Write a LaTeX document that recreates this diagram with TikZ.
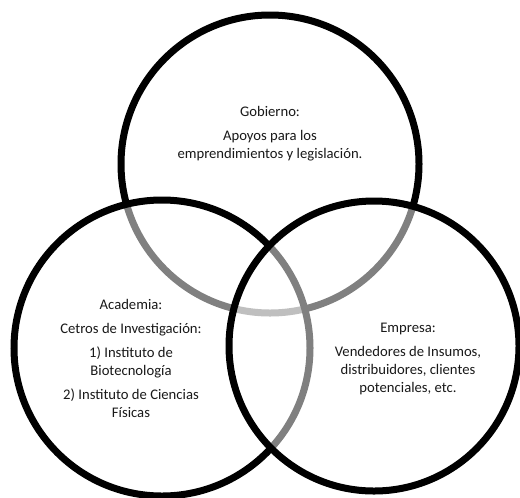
\documentclass[tikz,border=0pt]{standalone}
\usepackage{fontspec}
\setmainfont{Carlito}
\usetikzlibrary{positioning}

\tikzset{
  ring/.style={circle, draw=black, line width=5.25pt, fill=white,
    fill opacity=0.5, draw opacity=1, inner sep=0pt},
  blocktext/.style={align=center, text=black!90,
    font=\fontsize{11}{13.5}\selectfont, inner sep=0pt}
}

\begin{document}
\begin{tikzpicture}[x=0.75pt, y=-0.75pt]
\useasboundingbox (0,0) rectangle (520,497);

% === Circles (drawn in order, each one veils the one below) ===
\node[ring, minimum size=223.5pt] (gob) at (270,164) {};
\node[ring, minimum size=222pt] (acad) at (162,348) {};
\node[ring, minimum size=217.5pt] (emp) at (374,346) {};

% === Texts ===
\node[blocktext] (gobtxt) at (270,134)
  {Gobierno:\\[4.5pt] Apoyos para los\\ emprendimientos y legislación.};
\node[blocktext] (acadtxt) at (131,358)
  {Academia:\\[4.5pt] Cetros de Investigación:\\[4.5pt] 1) Instituto de\\ Biotecnología\\[4.5pt]
   2) Instituto de Ciencias\\ Físicas};
\node[blocktext] (emptxt) at (408,359)
  {Empresa:\\[4.5pt] Vendedores de Insumos,\\ distribuidores, clientes\\ potenciales, etc.};

\end{tikzpicture}
\end{document}
